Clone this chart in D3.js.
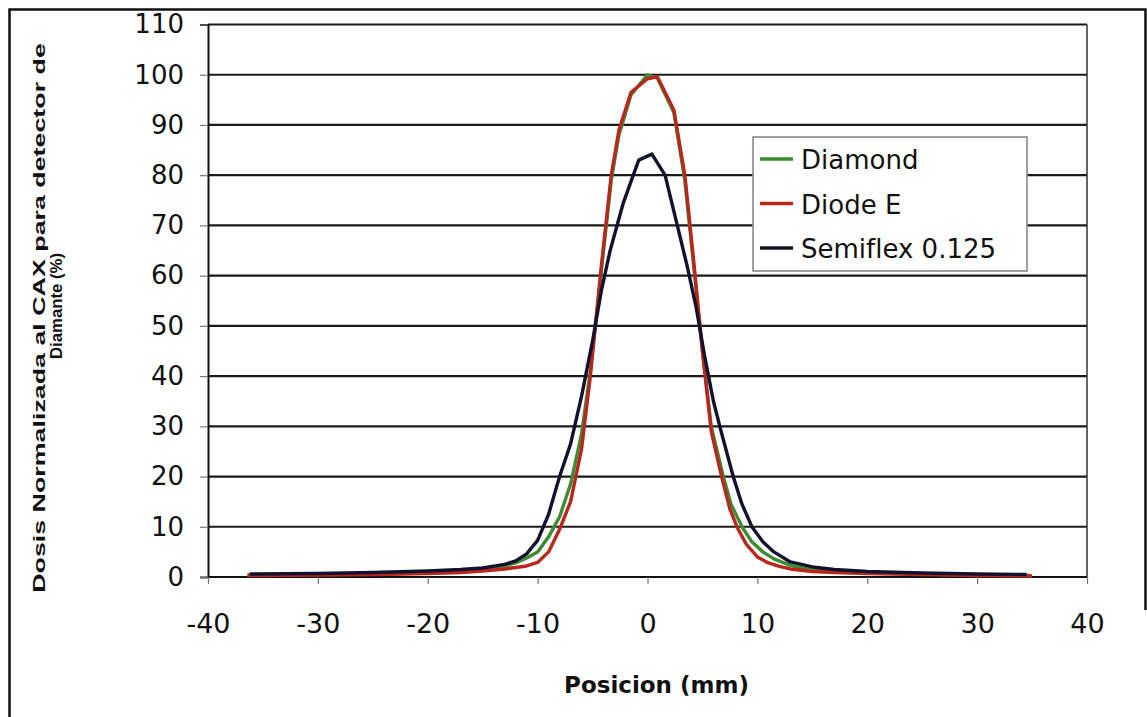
<!DOCTYPE html>
<html lang="es">
<head>
  <meta charset="utf-8" />
  <title>Perfil de dosis</title>
  <style>
    html,body{margin:0;background:#fff;}
    svg{display:block;}
    text{font-family:"DejaVu Sans",Arial,sans-serif;fill:#111;}
  </style>
</head>
<body>
  <svg id="chart" width="1147" height="717"></svg>
  <script src="https://d3js.org/d3.v7.min.js"></script>
  <script>
    // ---- data ----
    const xTicks = [-40,-30,-20,-10,0,10,20,30,40];
    const yTicks = [0,10,20,30,40,50,60,70,80,90,100,110];
    const seriesNames = ['Diamond','Diode E','Semiflex 0.125'];

    const diamondX = [-36.4,-30,-25,-20,-17,-15,-13,-12,-11,-10,-9,-8,-7,-6,-5.2,-4.2,-3.3,-2.6,-1.5,0,0.9,2.4,3.4,4.2,5,5.8,6.9,7.6,8.6,9.5,10.5,11.5,13,15,17,20,25,30,34.8];
    const diamondY = [0.4,0.5,0.6,0.8,1.1,1.5,2.2,2.8,3.8,5,8,12,18.5,28.5,41,61,79,88,96,100,99.3,92.5,79,62,45,30,20,14.5,10,7,5,3.6,2.3,1.4,1.1,0.8,0.6,0.4,0.3];

    const diodeX = [-36.4,-30,-25,-20,-17,-15,-13,-12,-11,-10,-9,-8,-7,-6,-5.2,-4.2,-3.3,-2.6,-1.5,0,0.9,2.4,3.4,4.2,5,5.8,6.8,7.5,8.2,9,10,11,12,13,15,17,20,25,30,35];
    const diodeY = [0.3,0.4,0.5,0.7,0.9,1.2,1.6,1.9,2.2,2.9,5,9.5,15,25.5,40,62,80,89,96.5,99.2,99.6,93,80,63,45,29,19.5,13.5,9.7,6.5,4,2.8,2.1,1.6,1.1,0.9,0.7,0.5,0.3,0.2];

    const semiflexX = [-36.2,-30,-25,-20,-17,-15,-13,-12,-11,-10,-9,-8,-7,-6,-5,-4.2,-3.4,-2.2,-0.8,0.4,1.6,2.6,3.6,4.4,5.2,6,6.7,7.8,8.6,9.5,10.5,11.5,13,15,17,20,25,30,34.5];
    const semiflexY = [0.6,0.7,0.9,1.2,1.5,1.8,2.5,3.2,4.6,7.3,12.5,20,26.5,36,47,57,65,74.5,83,84.2,80,71,62,54,44,35,29,20,14.5,10,7,5,3,2,1.5,1.1,0.8,0.6,0.5];

    const colours = ['#3c8c34','#b8261c','#12122e'];

    // ---- layout ----
    const svg = d3.select('#chart');
    const x = d3.scaleLinear().domain([-40,40]).range([208,1087]);
    const y = d3.scaleLinear().domain([0,110]).range([577,24.5]);

    // outer frame
    svg.append('path')
      .attr('d','M9.5,717 L9.5,9.5 L1145.5,9.5 L1145.5,610')
      .attr('fill','none').attr('stroke','#111').attr('stroke-width',2.5);

    // gridlines
    svg.append('g').selectAll('line').data(yTicks.filter(d=>d>0)).join('line')
      .attr('x1',x(-40)).attr('x2',x(40))
      .attr('y1',d=>y(d)).attr('y2',d=>y(d))
      .attr('stroke','#1a1a1a').attr('stroke-width',2.2);

    // right border of plot area
    svg.append('line')
      .attr('x1',x(40)).attr('x2',x(40)).attr('y1',y(110)).attr('y2',y(0))
      .attr('stroke','#333').attr('stroke-width',1.5);

    // y axis
    const yAxis = svg.append('g').attr('transform',`translate(${x(-40)},0)`)
      .call(d3.axisLeft(y).tickValues(yTicks).tickSize(8).tickPadding(16));
    yAxis.select('.domain').attr('stroke','#111').attr('stroke-width',2);
    yAxis.selectAll('.tick line').attr('stroke','#777').attr('stroke-width',1.2);
    yAxis.selectAll('.tick text').style('font-size','26px').attr('fill','#111')
      .style('font-family','"DejaVu Sans",Arial,sans-serif');

    // x axis
    const xAxis = svg.append('g').attr('transform',`translate(0,${y(0)})`)
      .call(d3.axisBottom(x).tickValues(xTicks).tickSize(7).tickPadding(30).tickFormat(d3.format('d')));
    xAxis.select('.domain').attr('stroke','#111').attr('stroke-width',2.2).attr('d',`M${x(-40)},0H${x(40)}`);
    xAxis.selectAll('.tick line').attr('stroke','#777').attr('stroke-width',1.2);
    xAxis.selectAll('.tick text').style('font-size','27px').attr('fill','#111')
      .style('font-family','"DejaVu Sans",Arial,sans-serif')
      .text(d=>d<0?'-'+Math.abs(d):d);

    // series
    const line = d3.line().x(d=>x(d[0])).y(d=>y(d[1]));
    const series = [
      d3.zip(diamondX,diamondY),
      d3.zip(diodeX,diodeY),
      d3.zip(semiflexX,semiflexY)
    ];
    svg.append('g').selectAll('path').data(series).join('path')
      .attr('d',line).attr('fill','none')
      .attr('stroke',(d,i)=>colours[i]).attr('stroke-width',3.4)
      .attr('stroke-linejoin','round');

    // legend
    const lg = svg.append('g');
    lg.append('rect').attr('x',753).attr('y',137).attr('width',274).attr('height',134)
      .attr('fill','#fff').attr('stroke','#8a8a8a').attr('stroke-width',1.6);
    const items = lg.selectAll('g.item').data(seriesNames).join('g')
      .attr('class','item').attr('transform',(d,i)=>`translate(760,${159+i*44.5})`);
    items.append('line').attr('x1',0).attr('x2',33).attr('y1',0).attr('y2',0)
      .attr('stroke',(d,i)=>colours[i]).attr('stroke-width',3.4);
    items.append('text').attr('x',41).attr('y',10).style('font-size','26px').text(d=>d);

    // axis titles
    svg.append('text').attr('x',x(0)+9).attr('y',693).attr('text-anchor','middle')
      .style('font-size','23px').style('font-weight','bold').text('Posicion (mm)');

    // y title: two lines, stretched along the reading direction to the picture's length
    function yTitle(txt, bx, cy, len){
      const t = svg.append('text').attr('text-anchor','middle')
        .style('font-family','"Liberation Sans",Arial,sans-serif')
        .style('font-size','17px').style('font-weight','bold').text(txt);
      const w = t.node().getComputedTextLength();
      t.attr('transform',`translate(${bx},${cy}) rotate(-90) scale(${len/w},1)`);
    }
    yTitle('Dosis Normalizada al CAX para detector de', 45, 318, 550);
    yTitle('Diamante (%)', 62, 306, 106);
  </script>
</body>
</html>
